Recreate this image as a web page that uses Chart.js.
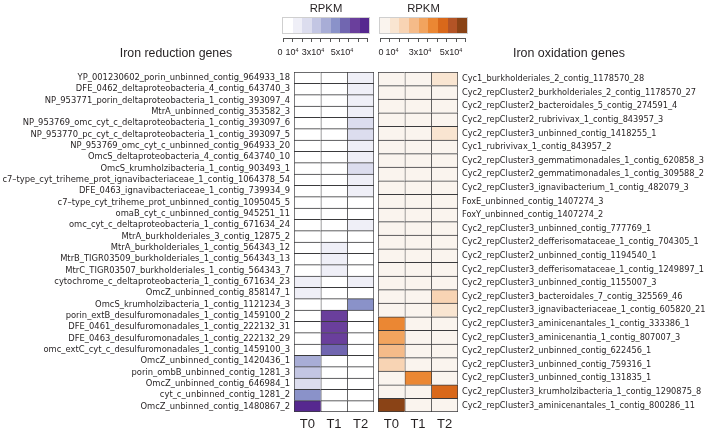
<!DOCTYPE html>
<html>
<head>
<meta charset="utf-8">
<script src="https://cdn.jsdelivr.net/npm/chart.js@4"></script>
<style>
body { margin: 0; background: #fff; }
#wrap { position: relative; width: 709px; height: 430px; overflow: hidden; font-family: "Liberation Sans", Arial, sans-serif; color: #231f20; }
#wrap canvas, .txt, .cbar, .tk { position: absolute; }
.txt { white-space: nowrap; line-height: 1; transform: translate(-50%, -50%); }
.txt sup { font-size: 0.6em; vertical-align: 0.55em; line-height: 0; }
.cbar { display: flex; box-sizing: border-box; border: 1px solid #cfcfcf; }
.cbar div { flex: 1; }
.tk { background: #555; }
</style>
</head>
<body>
<div id="wrap">
  <canvas id="redChart" width="380" height="430" style="left:0;top:0"></canvas>
  <canvas id="oxChart" width="339" height="430" style="left:370px;top:0"></canvas>
</div>
<script>
var timepoints = ['T0', 'T1', 'T2'];

var reductionGenes = [
  'YP_001230602_porin_unbinned_contig_964933_18',
  'DFE_0462_deltaproteobacteria_4_contig_643740_3',
  'NP_953771_porin_deltaproteobacteria_1_contig_393097_4',
  'MtrA_unbinned_contig_353582_3',
  'NP_953769_omc_cyt_c_deltaproteobacteria_1_contig_393097_6',
  'NP_953770_pc_cyt_c_deltaproteobacteria_1_contig_393097_5',
  'NP_953769_omc_cyt_c_unbinned_contig_964933_20',
  'OmcS_deltaproteobacteria_4_contig_643740_10',
  'OmcS_krumholzibacteria_1_contig_903493_1',
  'c7\u2013type_cyt_triheme_prot_ignavibacteriaceae_1_contig_1064378_54',
  'DFE_0463_ignavibacteriaceae_1_contig_739934_9',
  'c7\u2013type_cyt_triheme_prot_unbinned_contig_1095045_5',
  'omaB_cyt_c_unbinned_contig_945251_11',
  'omc_cyt_c_deltaproteobacteria_1_contig_671634_24',
  'MtrA_burkholderiales_3_contig_12875_2',
  'MtrA_burkholderiales_1_contig_564343_12',
  'MtrB_TIGR03509_burkholderiales_1_contig_564343_13',
  'MtrC_TIGR03507_burkholderiales_1_contig_564343_7',
  'cytochrome_c_deltaproteobacteria_1_contig_671634_23',
  'OmcZ_unbinned_contig_858147_1',
  'OmcS_krumholzibacteria_1_contig_1121234_3',
  'porin_extB_desulfuromonadales_1_contig_1459100_2',
  'DFE_0461_desulfuromonadales_1_contig_222132_31',
  'DFE_0463_desulfuromonadales_1_contig_222132_29',
  'omc_extC_cyt_c_desulfuromonadales_1_contig_1459100_3',
  'OmcZ_unbinned_contig_1420436_1',
  'porin_ombB_unbinned_contig_1281_3',
  'OmcZ_unbinned_contig_646984_1',
  'cyt_c_unbinned_contig_1281_2',
  'OmcZ_unbinned_contig_1480867_2'
];
// RPKM at each time point, same order as reductionGenes
var reductionT0 = [0, 0, 0, 0, 0, 0, 0, 0, 0, 0, 0, 0, 0, 0, 0, 0, 0, 0, 13000, 12000,
                   0, 0, 0, 0, 0, 46000, 35000, 24000, 55000, 86000];
var reductionT1 = [0, 0, 0, 0, 0, 0, 0, 0, 0, 0, 0, 0, 0, 0, 0, 11000, 12000, 11000, 0, 0,
                   0, 77000, 76000, 77000, 65000, 0, 0, 0, 0, 0];
var reductionT2 = [12000, 13000, 12000, 11000, 24000, 23000, 12000, 11000, 22000, 12000,
                   11000, 0, 0, 12000, 0, 0, 0, 0, 12000, 0,
                   55000, 0, 0, 0, 0, 0, 0, 0, 0, 0];

var oxidationGenes = [
  'Cyc1_burkholderiales_2_contig_1178570_28',
  'Cyc2_repCluster2_burkholderiales_2_contig_1178570_27',
  'Cyc2_repCluster2_bacteroidales_5_contig_274591_4',
  'Cyc2_repCluster2_rubrivivax_1_contig_843957_3',
  'Cyc2_repCluster3_unbinned_contig_1418255_1',
  'Cyc1_rubrivivax_1_contig_843957_2',
  'Cyc2_repCluster3_gemmatimonadales_1_contig_620858_3',
  'Cyc2_repCluster2_gemmatimonadales_1_contig_309588_2',
  'Cyc2_repCluster3_ignavibacterium_1_contig_482079_3',
  'FoxE_unbinned_contig_1407274_3',
  'FoxY_unbinned_contig_1407274_2',
  'Cyc2_repCluster3_unbinned_contig_777769_1',
  'Cyc2_repCluster2_defferisomataceae_1_contig_704305_1',
  'Cyc2_repCluster2_unbinned_contig_1194540_1',
  'Cyc2_repCluster3_defferisomataceae_1_contig_1249897_1',
  'Cyc2_repCluster3_unbinned_contig_1155007_3',
  'Cyc2_repCluster3_bacteroidales_7_contig_325569_46',
  'Cyc2_repCluster3_ignavibacteriaceae_1_contig_605820_21',
  'Cyc2_repCluster3_aminicenantales_1_contig_333386_1',
  'Cyc2_repCluster3_aminicenantia_1_contig_807007_3',
  'Cyc2_repCluster2_unbinned_contig_622456_1',
  'Cyc2_repCluster3_unbinned_contig_759316_1',
  'Cyc2_repCluster3_unbinned_contig_131835_1',
  'Cyc2_repCluster3_krumholzibacteria_1_contig_1290875_8',
  'Cyc2_repCluster3_aminicenantales_1_contig_800286_11'
];
var oxidationT0 = [0, 0, 0, 0, 0, 0, 0, 0, 0, 0, 0, 0, 0, 0, 0, 0, 0, 0,
                   56000, 45000, 36000, 24000, 0, 0, 87000];
var oxidationT1 = [0, 0, 0, 0, 0, 0, 0, 0, 0, 0, 0, 0, 0, 0, 0, 0, 0, 0,
                   0, 0, 0, 0, 55000, 0, 0];
var oxidationT2 = [13000, 0, 0, 0, 12000, 0, 0, 0, 0, 0, 0, 0, 0, 0, 0, 0, 23000, 12000,
                   0, 0, 0, 0, 0, 66000, 0];

// colour bins of 10^4 RPKM
var binSize = 10000;
var purples = ['#ffffff', '#efeff7', '#dcddee', '#c3c6e3', '#a8add6', '#8a92c9', '#7166b0', '#6a3f9c', '#56288f'];
var oranges = ['#faf4ee', '#f9e5d1', '#f8d4b4', '#f5bb89', '#f2a45e', '#eb8733', '#d9681a', '#b35426', '#8a4316'];
var legendLabels = ['0', '10<sup>4</sup>', '3x10<sup>4</sup>', '5x10<sup>4</sup>'];

var ink = '#231f20';
var gridColor = '#3a3a3c';

function hasFont(name) {
  var c = document.createElement('canvas').getContext('2d');
  var s = 'abcdefghij_0123456789_ABC';
  c.font = '20px monospace';
  var a = c.measureText(s).width;
  c.font = '20px "' + name + '", monospace';
  return c.measureText(s).width !== a;
}
var labelFamily = ['Liberation Sans Narrow', 'DejaVu Sans Condensed', 'Liberation Sans'].find(hasFont) || 'sans-serif';

// size the gene labels so the longest one fills the room beside its grid
function fitSize(genes, room) {
  var c = document.createElement('canvas').getContext('2d');
  c.font = '11px "' + labelFamily + '"';
  var w = Math.max.apply(null, genes.map(function (g) { return c.measureText(g).width; }));
  return Math.min(11.5, 11 * room / w);
}
var leftLabelSize = fitSize(reductionGenes, 288);
var rightLabelSize = fitSize(oxidationGenes, 244);

function colourOf(v, pal) {
  return pal[Math.min(pal.length - 1, Math.floor(v / binSize))];
}

function heatmap(id, genes, cols, pal, side, labelSize) {
  var n = genes.length;
  var datasets = cols.map(function (vals, c) {
    return {
      label: timepoints[c],
      data: vals.map(function () { return 1; }),
      backgroundColor: vals.map(function (v) { return colourOf(v, pal); }),
      borderColor: gridColor,
      borderWidth: function (ctx) {
        return { top: 1, left: 1, right: ctx.datasetIndex === cols.length - 1 ? 1 : 0, bottom: ctx.dataIndex === n - 1 ? 1 : 0 };
      },
      borderSkipped: false,
      categoryPercentage: 1,
      barPercentage: 1
    };
  });
  return new Chart(document.getElementById(id), {
    type: 'bar',
    data: { labels: genes, datasets: datasets },
    options: {
      responsive: false,
      animation: false,
      indexAxis: 'y',
      layout: { padding: side === 'left' ? { top: 72, right: 6, left: 0, bottom: 0 } : { top: 72, left: 8, right: 0, bottom: 0 } },
      plugins: { legend: { display: false }, tooltip: { enabled: false } },
      events: [],
      scales: {
        x: {
          type: 'linear', stacked: true, min: 0, max: 3,
          grid: { display: false, drawTicks: false }, border: { display: false },
          afterBuildTicks: function (s) { s.ticks = [0.5, 1.5, 2.5].map(function (v) { return { value: v }; }); },
          afterFit: function (s) { s.height = 18; },
          ticks: {
            padding: 5, color: ink, font: { size: 13, family: '"Liberation Sans", Arial' },
            callback: function (v) { return timepoints[Math.floor(v)]; }
          }
        },
        y: {
          type: 'category', stacked: true, position: side,
          grid: { display: false, drawTicks: false }, border: { display: false },
          afterFit: function (s) { s.width = side === 'left' ? 294 : 251; },
          ticks: { padding: 4, autoSkip: false, color: ink, font: { size: labelSize, family: '"' + labelFamily + '"' } }
        }
      }
    }
  });
}

heatmap('redChart', reductionGenes, [reductionT0, reductionT1, reductionT2], purples, 'left', leftLabelSize);
heatmap('oxChart', oxidationGenes, [oxidationT0, oxidationT1, oxidationT2], oranges, 'right', rightLabelSize);

// titles and colour keys
var wrap = document.getElementById('wrap');
function addText(html, x, y, size, width) {
  var d = document.createElement('div');
  d.className = 'txt';
  d.innerHTML = html;
  d.style.left = x + 'px';
  d.style.top = y + 'px';
  d.style.fontSize = size + 'px';
  wrap.appendChild(d);
  if (width) d.style.fontSize = (size * width / d.offsetWidth) + 'px';
  return d;
}
function addBox(cls, x, y, w, h) {
  var d = document.createElement('div');
  d.className = cls;
  d.style.left = x + 'px'; d.style.top = y + 'px';
  d.style.width = w + 'px'; d.style.height = h + 'px';
  wrap.appendChild(d);
  return d;
}
function colourKey(pal, x0, x1, labelX) {
  var bar = addBox('cbar', x0, 17, x1 - x0, 17);
  pal.forEach(function (c) {
    var s = document.createElement('div');
    s.style.background = c;
    bar.appendChild(s);
  });
  addText('RPKM', (x0 + x1) / 2, 9, 13, 33);
  addBox('tk', x0 + 1, 38, x1 - x0 - 3, 1);
  for (var i = 0; i <= pal.length; i++) {
    addBox('tk', x0 + 1 + i * (x1 - x0 - 4) / pal.length, 38, 1, 4);
  }
  legendLabels.forEach(function (t, i) { addText(t, labelX[i], 52, 9); });
}
colourKey(purples, 282, 370, [280, 292, 313, 342]);
colourKey(oranges, 379, 468, [381, 392, 420, 451]);

addText('Iron reduction genes', 176, 53, 14, 113);
addText('Iron oxidation genes', 569, 53, 14, 112);
</script>
</body>
</html>
